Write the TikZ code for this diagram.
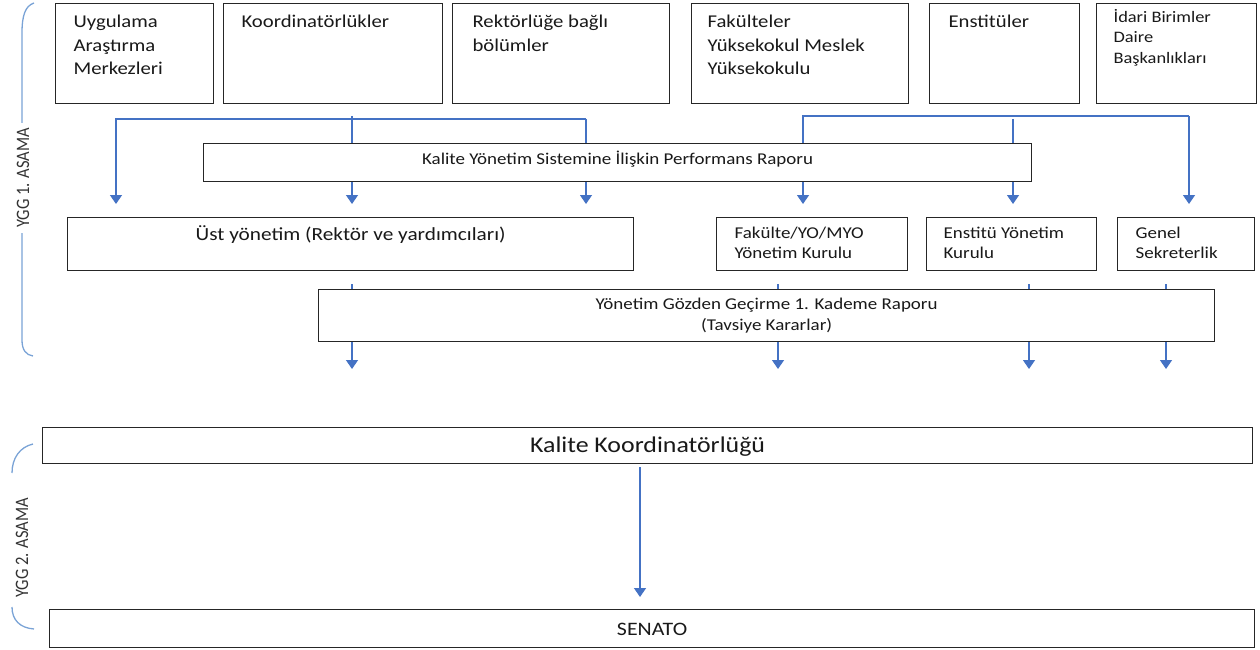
\documentclass[tikz,border=0pt]{standalone}
\usepackage{fontspec}
\setmainfont{Carlito}[FakeStretch=1.15]
\newfontfamily\stagefont{Carlito}
\usetikzlibrary{arrows.meta,backgrounds}

\definecolor{flowblue}{RGB}{68,114,196}
\definecolor{bracelight}{RGB}{122,163,214}
\definecolor{boxline}{RGB}{38,38,38}

\newcommand{\topsize}{\fontsize{18}{23.5}\selectfont}
\newcommand{\midsize}{\fontsize{16.5}{20}\selectfont}
% box text: [alignment]{width}{height}{top gap}{text}
\newcommand{\cellbox}[5][\leftskip=18pt]{%
  \parbox[t][#3][t]{#2}{\raggedright#1\relax\vspace*{#4}\strut#5}}

\begin{document}
\begin{tikzpicture}[x=1pt,y=-1pt,
    unit/.style={draw=boxline,line width=1.2pt,fill=white,text=black!90,inner sep=0pt,anchor=north west},
    flow/.style={draw=flowblue,line width=1.4pt,-{Triangle[length=9pt,width=12pt]}},
    gap/.style={shorten >=13pt},
    brace/.style={draw=bracelight,line width=1.3pt},
    stage/.style={font=\stagefont\fontsize{16.5}{18}\selectfont,text=black!80,rotate=90,yscale=1.15,transform shape}]
  \useasboundingbox (0,0) rectangle (1260,650);

  % units
  \node[unit,font=\topsize] (uam)   at (55,3)   {\cellbox{158pt}{100pt}{7.5pt}{Uygulama\\Araştırma\\Merkezleri}};
  \node[unit,font=\topsize] (koord) at (223,3)  {\cellbox{219pt}{100pt}{7.5pt}{Koordinatörlükler}};
  \node[unit,font=\topsize] (rekt)  at (452,3)  {\cellbox[\leftskip=20pt]{217pt}{100pt}{7.5pt}{Rektörlüğe bağlı\\bölümler}};
  \node[unit,font=\topsize] (fak)   at (691,3)  {\cellbox[\leftskip=16pt]{217pt}{100pt}{7.5pt}{Fakülteler\\Yüksekokul Meslek\\Yüksekokulu}};
  \node[unit,font=\topsize] (enst)  at (929,3)  {\cellbox[\leftskip=19pt]{150pt}{100pt}{7.5pt}{Enstitüler}};
  \node[unit,font=\fontsize{16}{20.5}\selectfont] (idari) at (1096,3) {\cellbox[\leftskip=17pt]{160pt}{100pt}{4.5pt}{İdari Birimler\\Daire\\Başkanlıkları}};

  % reports and boards
  \node[unit,font=\midsize] (kys) at (203,143) {\cellbox[\centering]{828pt}{38pt}{7pt}{Kalite Yönetim Sistemine İlişkin Performans Raporu}};
  \node[unit,font=\fontsize{18.5}{21}\selectfont] (ust) at (67,217) {\cellbox[\centering]{566pt}{53pt}{8.3pt}{Üst yönetim (Rektör ve yardımcıları)}};
  \node[unit,font=\midsize] (fkurul) at (716,217)  {\cellbox{191pt}{53pt}{7pt}{Fakülte/YO/MYO\\Yönetim Kurulu}};
  \node[unit,font=\midsize] (ekurul) at (926,217)  {\cellbox[\leftskip=17pt]{170pt}{53pt}{7pt}{Enstitü Yönetim\\Kurulu}};
  \node[unit,font=\midsize] (gsek)   at (1117,217) {\cellbox{137pt}{53pt}{7pt}{Genel\\Sekreterlik}};
  \node[unit,font=\fontsize{16.5}{21}\selectfont] (gozden) at (318,289) {\cellbox[\centering]{896pt}{52pt}{5.3pt}{Yönetim Gözden Geçirme 1. Kademe Raporu\\(Tavsiye Kararlar)}};
  \node[unit,font=\fontsize{22.5}{26}\selectfont] (kk) at (42,427) {\cellbox[\centering]{1210pt}{36pt}{6.8pt}{Kalite Koordinatörlüğü}};
  \node[unit,font=\fontsize{19}{21}\selectfont] (senato) at (49,609) {\cellbox[\centering]{1205pt}{38pt}{11pt}{SENATO}};

  % stages
  \draw[brace] (34,3) .. controls (25,6) and (22,16) .. (22,33) -- (22,123);
  \draw[brace] (22,233) -- (22,340) .. controls (22,350) and (26,355) .. (33,356);
  \node[stage] (asama1) at (23,178) {YGG 1. ASAMA};
  \draw[brace] (33,444) .. controls (20,447) and (12,458) .. (12,473);
  \draw[brace] (12,607) .. controls (12,620) and (20,628) .. (34,629);
  \node[stage] (asama2) at (22,548) {YGG 2. ASAMA};

  \begin{scope}[on background layer]
    % first stage, rector side
    \coordinate (busw) at (116,119);
    \coordinate (busm) at (352,116);
    \coordinate (buse) at (586,119);
    \draw[flow,gap] (buse) -- (busw) -- (busw |- ust.north);
    \draw[flow,gap] (buse) -- (buse |- ust.north);
    \draw[flow,gap] (busm) -- (busm |- ust.north);
    % first stage, faculty side
    \coordinate (fbusw) at (803,116);
    \coordinate (fbusm) at (1013,119);
    \coordinate (fbuse) at (1189,116);
    \draw[flow,gap] (fbuse) -- (fbusw) -- (fbusw |- fkurul.north);
    \draw[flow,gap] (fbusm) -- (fbusm |- ekurul.north);
    \draw[flow,gap] (fbuse) -- (fbuse |- gsek.north);
    % boards through the review report
    \coordinate (dust) at (352,369);
    \coordinate (dfak) at (778,369);
    \coordinate (denst) at (1029,369);
    \coordinate (dgsek) at (1166,369);
    \draw[flow,shorten <=13pt] (ust.south -| dust) -- (dust);
    \draw[flow,shorten <=13pt] (fkurul.south -| dfak) -- (dfak);
    \draw[flow,shorten <=13pt] (ekurul.south -| denst) -- (denst);
    \draw[flow,shorten <=13pt] (gsek.south -| dgsek) -- (dgsek);
    % second stage
    \coordinate (kx) at (640,500);
    \draw[flow,shorten <=3pt,shorten >=12pt] (kk.south -| kx) -- (senato.north -| kx);
  \end{scope}
\end{tikzpicture}
\end{document}
